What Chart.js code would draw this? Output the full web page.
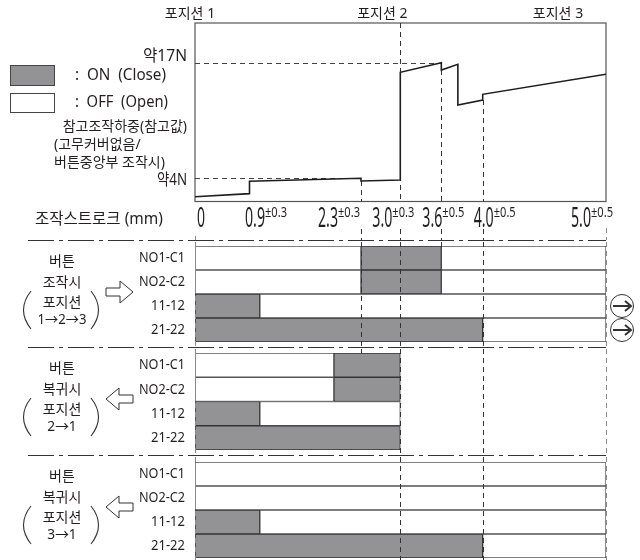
<!DOCTYPE html>
<html lang="ko">
<head>
<meta charset="utf-8">
<script src="https://cdn.jsdelivr.net/npm/chart.js@4/dist/chart.umd.min.js"></script>
<style>
html, body { margin: 0; padding: 0; background: #fff; }
#wrap { position: relative; width: 640px; height: 560px; overflow: hidden; background: #fff; }
#wrap canvas { position: absolute; left: 0; }
</style>
</head>
<body>
<div id="wrap">
  <canvas id="force" width="640" height="240" style="top:0px"></canvas>
  <canvas id="grp0" width="640" height="107" style="top:240px"></canvas>
  <canvas id="grp1" width="640" height="108" style="top:347px"></canvas>
  <canvas id="grp2" width="640" height="105" style="top:455px"></canvas>
</div>
<script>
//DATA__STROKE (mm)
const strokeTicks    = [0, 0.9, 2.3, 3.0, 3.6, 4.0, 5.0];
const strokeTols     = ['', '±0.3', '±0.3', '±0.3', '±0.5', '±0.5', '±0.5'];
const positionNames  = ['포지션 1', '포지션 2', '포지션 3'];
const positionStroke = [0, 3.0, 5.0];
const guideMarks     = [2.3, 3.0, 3.6, 4.0];

//DATA__FORCE (N)
const forceX          = [0, 0.9, 0.9, 2.3, 2.3, 3.0, 3.0, 3.6, 3.6, 3.76, 3.76, 4.0, 4.0, 5.0];
const forceY          = [1.94, 2.28, 3.67, 4.01, 3.70, 3.82, 15.91, 16.99, 16.17, 16.81, 12.24, 12.8, 13.44, 15.69];
const forceMarks      = [17, 4];
const forceMarkEnds   = [3.6, 2.3];
const forceMarkLabels = ['약17N', '약4N'];

//DATA__TIMING
const rowNames  = ['NO1-C1', 'NO2-C2', '11-12', '21-22'];
const pressOn   = [[2.3, 3.6], [2.3, 3.6], [0, 1.03], [0, 4.0]];
const pressOffA = [[0, 2.3], [0, 2.3], [1.03, 5.0], [4.0, 5.0]];
const pressOffB = [[3.6, 5.0], [3.6, 5.0], null, null];
const back2On   = [[1.96, 3.0], [1.96, 3.0], [0, 1.03], [0, 3.0]];
const back2Off  = [[0, 1.96], [0, 1.96], [1.03, 3.0], null];
const back3On   = [null, null, [0, 1.03], [0, 4.0]];
const back3Off  = [[0, 5.0], [0, 5.0], [1.03, 5.0], [4.0, 5.0]];
const groupTitles = [
    ['버튼', '조작시', '포지션', '1→2→3'],
    ['버튼', '복귀시', '포지션', '2→1'],
    ['버튼', '복귀시', '포지션', '3→1'],
];

//STYLE
const INK      = '#231f20';
const ON_FILL  = '#939396';
const FONT     = '"Noto Sans", "Noto Sans CJK KR", sans-serif';
// where each stroke mark sits along the (not to scale) axis
const STROKE_FRAC      = [0, 0.1326, 0.4039, 0.4995, 0.5993, 0.7, 1];
const TICK_SHIFT       = [2, -4.5, -43, -28, -19, -9, -35];
const POS_LABEL_SHIFT  = [-5, -18, -48];

Chart.defaults.font.family = FONT;

//JS__SCALE
function strokeToFrac(v){
    let i = 1;
    while (i < strokeTicks.length - 1 && v > strokeTicks[i]) i++;
    const a = strokeTicks[i - 1], b = strokeTicks[i];
    return STROKE_FRAC[i - 1] + (v - a) / (b - a) * (STROKE_FRAC[i] - STROKE_FRAC[i - 1]);
}
function fracToStroke(f){
    let i = 1;
    while (i < STROKE_FRAC.length - 1 && f > STROKE_FRAC[i]) i++;
    const a = STROKE_FRAC[i - 1], b = STROKE_FRAC[i];
    return strokeTicks[i - 1] + (f - a) / (b - a) * (strokeTicks[i] - strokeTicks[i - 1]);
}
class StrokeScale extends Chart.LinearScale {
    static id = 'stroke';
    static defaults = Chart.LinearScale.defaults;
    getPixelForValue(v){
        return v === null || v === undefined ? NaN : this.getPixelForDecimal(strokeToFrac(v));
    }
    getValueForPixel(p){
        return fracToStroke(this.getDecimalForPixel(p));
    }
}
Chart.register(StrokeScale);

//JS__DRAW_HELPERS
function write(ctx, s, x, y, size, align, maxW, base){
    ctx.save();
    ctx.fillStyle = INK;
    ctx.font = size + 'px ' + FONT;
    ctx.textAlign = align || 'left';
    ctx.textBaseline = base || 'middle';
    if (maxW) ctx.fillText(s, x, y, maxW); else ctx.fillText(s, x, y);
    ctx.restore();
}
function vdash(ctx, x, y0, y1, color){
    ctx.save();
    ctx.strokeStyle = color || '#333';
    ctx.lineWidth = 1;
    ctx.setLineDash([5, 4]);
    ctx.beginPath();
    ctx.moveTo(Math.round(x) + 0.5, y0);
    ctx.lineTo(Math.round(x) + 0.5, y1);
    ctx.stroke();
    ctx.restore();
}
function hdash(ctx, x0, x1, y){
    ctx.save();
    ctx.strokeStyle = '#444';
    ctx.lineWidth = 1;
    ctx.setLineDash([5, 4]);
    ctx.beginPath();
    ctx.moveTo(x0, Math.round(y) + 0.5);
    ctx.lineTo(x1, Math.round(y) + 0.5);
    ctx.stroke();
    ctx.restore();
}
function outlineArrow(ctx, cy, dir){
    let pts = [[106, -4], [120, -4], [120, -11], [133, 0], [120, 11], [120, 4], [106, 4]];
    if (dir < 0) pts = pts.map(p => [239 - p[0], p[1]]);
    ctx.save();
    ctx.fillStyle = '#fff';
    ctx.strokeStyle = '#333';
    ctx.lineWidth = 1;
    ctx.beginPath();
    pts.forEach((p, i) => i ? ctx.lineTo(p[0], cy + p[1]) : ctx.moveTo(p[0], cy + p[1]));
    ctx.closePath();
    ctx.fill();
    ctx.stroke();
    ctx.restore();
}
function parens(ctx, top, bottom){
    const mid = (top + bottom) / 2;
    ctx.save();
    ctx.strokeStyle = '#333';
    ctx.lineWidth = 1.1;
    ctx.beginPath();
    ctx.moveTo(31, top); ctx.quadraticCurveTo(16, mid, 31, bottom);
    ctx.moveTo(91, top); ctx.quadraticCurveTo(106, mid, 91, bottom);
    ctx.stroke();
    ctx.restore();
}
function circledArrow(ctx, cx, cy){
    ctx.save();
    ctx.strokeStyle = '#333';
    ctx.lineWidth = 1;
    ctx.beginPath();
    ctx.arc(cx, cy, 11.5, 0, Math.PI * 2);
    ctx.stroke();
    ctx.lineWidth = 2;
    ctx.beginPath();
    ctx.moveTo(cx - 9, cy); ctx.lineTo(cx + 8, cy);
    ctx.moveTo(cx + 3, cy - 5); ctx.lineTo(cx + 9, cy); ctx.lineTo(cx + 3, cy + 5);
    ctx.stroke();
    ctx.restore();
}
function dashDot(ctx, x0, x1, y){
    ctx.save();
    ctx.strokeStyle = '#333';
    ctx.lineWidth = 1;
    ctx.setLineDash([26, 5, 4, 5]);
    ctx.beginPath();
    ctx.moveTo(x0, y); ctx.lineTo(x1, y);
    ctx.stroke();
    ctx.restore();
}

//JS__FORCE_CHART
const forcePlugin = {
    id: 'forceDecor',
    beforeDatasetsDraw(chart){
        const {ctx, chartArea: a, scales: {x, y}} = chart;
        ctx.save();
        ctx.strokeStyle = '#555';
        ctx.lineWidth = 1.2;
        ctx.strokeRect(a.left, a.top, a.right - a.left, a.bottom - a.top);
        ctx.restore();
        forceMarks.forEach((n, i) => hdash(ctx, a.left, x.getPixelForValue(forceMarkEnds[i]), y.getPixelForValue(n)));
        guideMarks.forEach(m => {
            const ys = forceY.filter((v, i) => forceX[i] === m);
            const from = positionStroke.includes(m) ? a.top : y.getPixelForValue(Math.min(...ys));
            vdash(ctx, x.getPixelForValue(m), from, a.bottom);
            vdash(ctx, x.getPixelForValue(m), 229, chart.height);
        });
        vdash(ctx, x.getPixelForValue(strokeTicks[strokeTicks.length - 1]), 228, chart.height, '#888');
        vdash(ctx, x.getPixelForValue(strokeTicks[0]), 236, chart.height, '#888');
    },
    afterDraw(chart){
        const {ctx, scales: {x}} = chart;
        positionNames.forEach((s, i) => write(ctx, s, x.getPixelForValue(positionStroke[i]) + POS_LABEL_SHIFT[i], 14, 14, 'center'));
        write(ctx, forceMarkLabels[0], 187, 56, 16, 'right', 44);
        write(ctx, forceMarkLabels[1], 187, 180, 16, 'right', 30);
        // legend
        ctx.save();
        ctx.strokeStyle = '#444';
        ctx.lineWidth = 1;
        ctx.fillStyle = ON_FILL;
        ctx.fillRect(10.5, 65.5, 44, 20);
        ctx.strokeRect(10.5, 65.5, 44, 20);
        ctx.strokeRect(10.5, 93.5, 44, 19);
        ctx.restore();
        write(ctx, ':  ON  (Close)', 75, 75, 16, 'left', 91);
        write(ctx, ':  OFF  (Open)', 75, 102, 16, 'left', 93);
        write(ctx, '참고조작하중(참고값)', 187, 127, 14, 'right', 137);
        write(ctx, '(고무커버없음/', 54, 145, 14, 'left');
        write(ctx, '버튼중앙부 조작시)', 54, 163, 14, 'left', 125);
        write(ctx, '조작스트로크 (mm)', 35, 219, 16, 'left', 128);
        // stroke ticks with tolerances
        strokeTicks.forEach((v, i) => {
            const main = v === 0 ? '0' : v.toFixed(1);
            const w = main.length === 1 ? 8 : 20;
            const left = x.getPixelForValue(v) + TICK_SHIFT[i];
            write(ctx, main, left, 227, 27, 'left', w, 'alphabetic');
            if (strokeTols[i]) write(ctx, strokeTols[i], left + w, 217, 14, 'left', 22, 'alphabetic');
        });
    }
};

function ForceChart(){
    const points = forceX.map((v, i) => ({x: v, y: forceY[i]}));
    new Chart(document.querySelector('#force'), {
        type: 'line',
        data: {
            datasets: [{
                data: points,
                borderColor: '#1e1e1e',
                borderWidth: 1.6,
                pointRadius: 0,
                tension: 0,
                fill: false,
            }]
        },
        options: {
            responsive: false,
            animation: false,
            layout: {padding: {left: 195, right: 34, top: 23, bottom: 38.5}},
            plugins: {legend: {display: false}, tooltip: {enabled: false}},
            scales: {
                x: {type: 'stroke', min: 0, max: 5, display: false},
                y: {type: 'linear', min: 1.4, max: 21.45, display: false},
            }
        },
        plugins: [forcePlugin]
    });
}

//JS__TIMING_CHARTS
const GROUPS = [
    {id: '#grp0', titles: groupTitles[0], arrow: 1,  on: pressOn, off: [pressOffA, pressOffB], full: [2.3, 3.0, 4.0], stub: [3.6], contRows: [2, 3], pad: [6, 5]},
    {id: '#grp1', titles: groupTitles[1], arrow: -1, on: back2On, off: [back2Off],             full: [3.0, 4.0],      stub: [2.3], contRows: [],     pad: [6, 5]},
    {id: '#grp2', titles: groupTitles[2], arrow: -1, on: back3On, off: [back3Off],             full: [3.0, 4.0],      stub: [],    contRows: [],     pad: [7, 2]},
];

function groupPlugin(g){
    return {
        id: 'groupDecor',
        beforeDraw(chart){
            dashDot(chart.ctx, 28, 606, 0.5);
        },
        afterDatasetsDraw(chart){
            const {ctx, chartArea: a, scales: {x}} = chart;
            const h = chart.height;
            [strokeTicks[0], strokeTicks[strokeTicks.length - 1]].forEach(v => vdash(ctx, x.getPixelForValue(v), 2, h, '#888'));
            g.full.forEach(v => vdash(ctx, x.getPixelForValue(v), 2, h));
            g.stub.forEach(v => vdash(ctx, x.getPixelForValue(v), 2, a.top));
        },
        afterDraw(chart){
            const {ctx, scales: {x, y}} = chart;
            rowNames.forEach((s, i) => write(ctx, s, 185, y.getPixelForValue(i), 15, 'right', s.length > 5 ? 46 : 34));
            const ty = [22, 43, 63, 80];
            g.titles.forEach((s, i) => write(ctx, s, 62, ty[i], 14, 'center', i === 3 ? s.length * 9.8 : undefined));
            parens(ctx, 51, 89);
            outlineArrow(ctx, 52, g.arrow);
            g.contRows.forEach(r => circledArrow(ctx, 622, y.getPixelForValue(r)));
        }
    };
}

function TimingChart(g){
    const barBase = {grouped: false, barPercentage: 1, categoryPercentage: 1, borderSkipped: false, borderWidth: 1};
    const datasets = [{...barBase, data: g.on, backgroundColor: ON_FILL, borderColor: '#333'}];
    g.off.forEach(d => datasets.push({...barBase, data: d, backgroundColor: '#fff', borderColor: '#555'}));
    new Chart(document.querySelector(g.id), {
        type: 'bar',
        data: {labels: rowNames, datasets: datasets},
        options: {
            indexAxis: 'y',
            responsive: false,
            animation: false,
            layout: {padding: {left: 195, right: 34, top: g.pad[0], bottom: g.pad[1]}},
            plugins: {legend: {display: false}, tooltip: {enabled: false}},
            scales: {
                x: {type: 'stroke', min: 0, max: 5, display: false},
                y: {type: 'category', display: false, offset: true},
            }
        },
        plugins: [groupPlugin(g)]
    });
}

function Index(){
    ForceChart();
    GROUPS.forEach(TimingChart);
}

//JS__INIT
Index();
</script>
</body>
</html>
